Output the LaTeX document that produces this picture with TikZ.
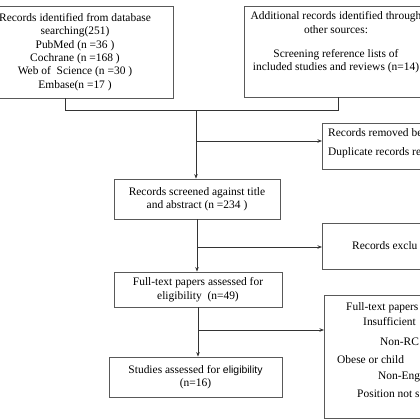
\documentclass[tikz,border=0pt]{standalone}
\usepackage{fontspec}
\setmainfont{Liberation Serif}
\newfontfamily\arialf{Liberation Sans}
\usetikzlibrary{arrows.meta}
\begin{document}
\begin{tikzpicture}[x=1bp,y=-1bp,
  box/.style={draw=black!65, line width=0.8bp, inner sep=0, align=center,
    font=\fontsize{11.5}{13.5}\selectfont},
  txt/.style={inner sep=0, anchor=west, font=\fontsize{11.5}{13.5}\selectfont},
  link/.style={draw=black!80, line width=0.9bp},
  arr/.style={link, -{Stealth[length=4.5bp,width=3.5bp]}}]
\useasboundingbox (0,0) rectangle (420,420);

% top boxes
\node[box, minimum width=196bp, minimum height=92bp] (db) at (75,52)
  {Records identified from database\\searching(251)\\PubMed (n =36 )\\Cochrane (n =168 )\\Web of~~Science (n =30 )\\Embase(n =17 )};
\node[box, minimum width=184bp, minimum height=91bp] (other) at (336,51.5) {};
\node[inner sep=0, align=center, font=\fontsize{11.5}{13.5}\selectfont] (othertxt) at (336,42.5)
  {Additional records identified through\\other sources:\\[11bp]Screening reference lists of\\included studies and reviews (n=14)};

% main column
\node[box, minimum width=166bp, minimum height=40bp] (screen) at (197,199)
  {Records screened against title\\and abstract (n =234 )};
\node[box, minimum width=168bp, minimum height=35bp] (full) at (198,289.5)
  {Full-text papers assessed for\\eligibility~~(n=49)};
\node[box, minimum width=173bp, minimum height=40bp] (studies) at (195.5,377)
  {Studies assessed for {\arialf\fontsize{10.5}{13}\selectfont eligibility}\\(n=16)};

% right column boxes
\node[box, anchor=north west, minimum width=130bp, minimum height=46bp] (removed) at (322,123) {};
\node[txt] (rm1) at (328,133) {Records removed be};
\node[txt] (rm2) at (328,153) {Duplicate records re};

\node[box, anchor=north west, minimum width=130bp, minimum height=46bp] (excl) at (322,223) {};
\node[txt] (ex1) at (352,246) {Records exclu};

\node[box, anchor=north west, minimum width=130bp, minimum height=123bp] (ftx) at (324,295) {};
\node[txt] (f1) at (346,308) {Full-text papers};
\node[txt] (f2) at (363,322) {Insufficient};
\node[txt] (f3) at (380,342) {Non-RC};
\node[txt] (f4) at (337,359.5) {Obese or child};
\node[txt] (f5) at (378,377) {Non-Eng};
\node[txt] (f6) at (357,393.5) {Position not s};

% connectors
\coordinate (j1) at (65,110);
\coordinate (j2) at (338,110);
\coordinate (j3) at (196,110);
\draw[link] (j1 |- db.south) -- (j1) -- (j2) -- (j2 |- other.south);
\draw[arr] (j3) -- (j3 |- screen.north);
\coordinate (b1) at (196,141);
\draw[arr] (b1) -- (b1 -| removed.west);

\draw[arr] (screen.south) -- (screen.south |- full.north);
\coordinate (b2) at (197,247);
\draw[arr] (b2) -- (b2 -| excl.west);

\draw[arr] (full.south) -- (full.south |- studies.north);
\coordinate (b3) at (198,330);
\draw[arr] (b3) -- (b3 -| ftx.west);
\end{tikzpicture}
\end{document}
